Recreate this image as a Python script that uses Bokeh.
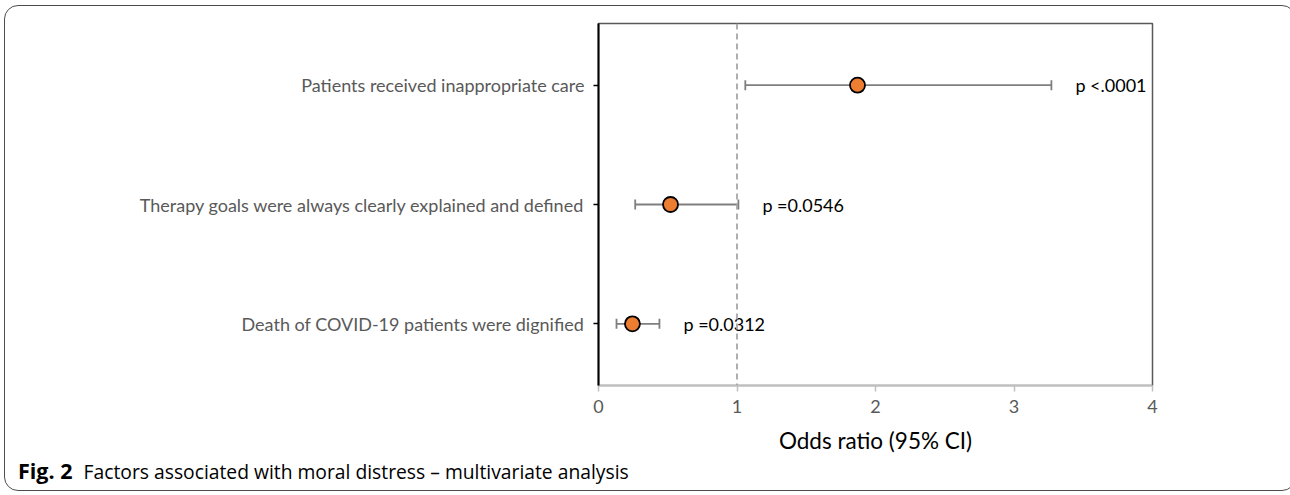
from bokeh.plotting import figure
from bokeh.models import (ColumnDataSource, Whisker, Span, Div,
                          FixedTicker, TeeHead, Range1d)
from bokeh.layouts import column
from bokeh.embed import file_html
from bokeh.resources import INLINE
from bokeh.core.properties import value

# ---------------- data ----------------
categories = [
    "Patients received inappropriate care",
    "Therapy goals were always clearly explained and defined",
    "Death of COVID-19 patients were dignified",
]
odds_ratio = [1.87, 0.52, 0.245]
ci_low = [1.06, 0.265, 0.13]
ci_high = [3.27, 1.01, 0.44]
p_labels = ["p <.0001", "p =0.0546", "p =0.0312"]
x_ticks = [0, 1, 2, 3, 4]
reference_or = 1
x_label = "Odds ratio (95% CI)"
caption_bold = "Fig. 2"
caption_text = "Factors associated with moral distress \u2013 multivariate analysis"

ypos = list(range(len(categories), 0, -1))

src = ColumnDataSource(dict(y=ypos, orv=odds_ratio, lo=ci_low, hi=ci_high, p=p_labels))

W, H = 1280, 450
p = figure(width=W, height=H, x_range=Range1d(0, 4),
           y_range=Range1d(1 - 0.517, len(categories) + 0.517),
           output_backend="svg", toolbar_location=None,
           min_border_left=593, min_border_right=133,
           min_border_top=17, min_border_bottom=67)
p.grid.visible = False
p.outline_line_color = "#595959"
p.outline_line_width = 1.5
p.background_fill_color = "white"
p.border_fill_color = None

FONT = "Lato"

xa = p.xaxis[0]
xa.ticker = FixedTicker(ticks=x_ticks)
xa.axis_line_color = "#BFBFBF"
xa.axis_line_width = 1.5
xa.major_tick_line_color = "#BFBFBF"
xa.major_tick_line_width = 1.5
xa.major_tick_out = 6
xa.major_tick_in = 0
xa.minor_tick_line_color = None
xa.major_label_text_font = FONT
xa.major_label_text_font_size = "18px"
xa.major_label_text_color = "#595959"
xa.major_label_standoff = 8
xa.axis_label = x_label
xa.axis_label_text_font = FONT
xa.axis_label_text_font_size = "22.5px"
xa.axis_label_text_font_style = "normal"
xa.axis_label_text_color = "#000000"
xa.axis_label_standoff = 11

ya = p.yaxis[0]
ya.ticker = FixedTicker(ticks=ypos)
ya.major_label_overrides = {y: c for y, c in zip(ypos, categories)}
ya.axis_line_color = "#000000"
ya.axis_line_width = 2
ya.major_tick_line_color = "#000000"
ya.major_tick_line_width = 1.5
ya.major_tick_out = 5
ya.major_tick_in = 0
ya.minor_tick_line_color = None
ya.major_label_text_font = FONT
ya.major_label_text_font_size = "18px"
ya.major_label_text_color = "#595959"
ya.major_label_standoff = 9

p.add_layout(Span(location=reference_or, dimension="height", line_color="#A6A6A6",
                  line_dash="6 4", line_width=1.8))

wh = Whisker(dimension="width", base="y", lower="lo", upper="hi", source=src,
             line_color="#7F7F7F", line_width=1.8,
             lower_head=TeeHead(size=10, line_color="#7F7F7F", line_width=1.8),
             upper_head=TeeHead(size=10, line_color="#7F7F7F", line_width=1.8))
p.add_layout(wh)

p.scatter(x="orv", y="y", source=src, size=15, fill_color="#ED7D31",
          line_color="#000000", line_width=1.8)

p.text(x="hi", y="y", text="p", source=src, x_offset=24, text_baseline="middle",
       text_align="left", text_font=value(FONT), text_font_size="18px",
       text_color="#000000")

cap_html = ('<div style="line-height:20px;padding-left:8px;white-space:nowrap;color:#000">'
            '<span style="font-family:\'Open Sans\';font-weight:bold;font-size:21.5px">%s</span>'
            '<span style="font-family:\'Open Sans\';font-size:19.3px;margin-left:11px">%s</span>'
            '</div>' % (caption_bold, caption_text))
cap = Div(text=cap_html, width=W, height=24)

layout = column(p, cap, spacing=0,
                styles={"border": "1.5px solid #4D4D4D", "border-radius": "14px",
                        "margin-left": "4px", "margin-top": "5px",
                        "background-color": "white"})

open("out.html", "w").write(file_html(layout, INLINE))
